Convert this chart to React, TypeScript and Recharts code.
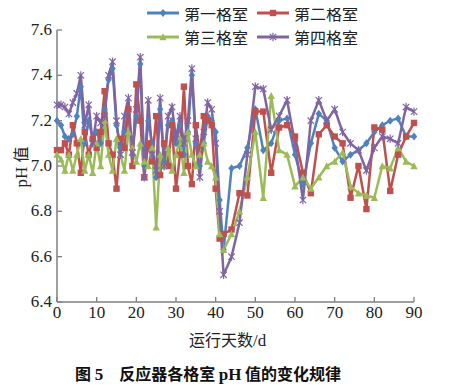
import React from "react";
import { LineChart, Line, XAxis, YAxis } from "recharts";

// 运行天数 (d)
const days = [
  0, 1, 2, 3, 4, 5, 6, 7, 8, 9, 10, 11, 12, 13, 14, 15, 16, 17, 18, 19, 20,
  21, 22, 23, 24, 25, 26, 27, 28, 29, 30, 31, 32, 33, 34, 35, 36, 37, 38, 39,
  40, 41, 42, 44, 46, 48, 50, 52, 54, 56, 58, 60, 62, 64, 66, 68, 70, 72, 74,
  76, 78, 80, 82, 84, 86, 88, 90,
];

const cell1 = [
  7.2, 7.18, 7.13, 7.12, 7.14, 7.22, 7.35, 7.1, 7.2, 7.12, 7.15, 7.1, 7.25,
  7.38, 7.43, 7.18, 7.08, 7.15, 7.25, 7.05, 7.22, 7.45, 7.0, 7.2, 7.1, 6.95,
  7.25, 7.02, 7.18, 7.2, 7.1, 7.18, 7.05, 7.15, 7.4, 7.1, 7.0, 7.1, 7.22, 7.2,
  7.15, 6.85, 6.63, 6.99, 7.0, 7.08, 7.25, 7.07, 7.1, 7.2, 7.21, 7.05, 6.92,
  7.1, 7.23, 7.2, 7.08, 7.02, 7.05, 7.07, 7.1, 7.15, 7.18, 7.2, 7.21, 7.13,
  7.13,
];

const cell2 = [
  7.07, 7.07, 7.1, 7.05, 7.18, 7.1, 6.97, 7.15, 7.05, 7.12, 7.08, 7.15, 7.33,
  7.1, 7.05, 6.9, 7.12, 7.08, 7.25, 7.0, 7.36, 7.2, 6.95, 7.1, 7.02, 7.22,
  6.96, 7.1, 7.0, 7.18, 6.9, 7.05, 7.35, 7.0, 6.92, 7.18, 7.05, 7.22, 7.2,
  7.18, 6.9, 6.68, 6.7, 6.72, 6.88, 6.87, 7.24, 7.24, 6.97, 7.17, 7.18, 7.13,
  6.97, 6.88, 7.14, 7.18, 7.13, 7.1, 6.86, 7.0, 6.81, 7.17, 7.16, 6.89, 7.05,
  7.13, 7.19,
];

const cell3 = [
  7.05, 7.03, 6.98, 7.05, 6.98, 7.05, 7.12, 6.98, 7.05, 6.97, 7.1, 7.0, 7.2,
  7.05, 6.98, 7.12, 7.05, 6.98, 7.15, 7.08, 7.02, 7.1, 7.02, 7.0, 7.08, 6.73,
  7.05, 7.0, 7.08, 6.98, 7.05, 7.12, 6.97, 7.15, 7.05, 7.0, 7.05, 7.1, 7.02,
  7.0, 6.95, 6.7, 6.63, 6.7, 6.8, 6.95, 7.15, 6.86, 7.31, 7.07, 7.05, 6.91,
  6.95, 6.9, 6.95, 7.0, 7.02, 7.06, 6.91, 6.88, 6.87, 6.86, 7.0, 6.99, 7.08,
  7.02, 7.0,
];

const cell4 = [
  7.27, 7.27, 7.26, 7.23, 7.28, 7.32, 7.4, 7.18, 7.27, 7.1, 7.22, 7.19, 7.22,
  7.4, 7.46, 7.2, 7.05, 7.22, 7.3, 7.06, 7.25, 7.48, 6.95, 7.29, 7.05, 6.98,
  7.3, 7.0, 7.22, 7.26, 7.12, 7.22, 7.1, 7.2, 7.43, 7.12, 6.95, 7.15, 7.28,
  7.25, 7.1, 6.8, 6.52, 6.6, 6.75, 7.05, 7.35, 7.34, 7.16, 7.22, 7.29, 7.1,
  6.85, 7.2, 7.29, 7.2, 7.25, 7.15, 7.1, 7.07, 6.98, 7.08, 7.13, 7.12, 7.1,
  7.26, 7.24,
];

const seriesNames = ["第一格室", "第二格室", "第三格室", "第四格室"];
const xTicks = [0, 10, 20, 30, 40, 50, 60, 70, 80, 90];
const yTicks = [6.4, 6.6, 6.8, 7.0, 7.2, 7.4, 7.6];

const data = days.map((d, i) => ({
  day: d,
  c1: cell1[i],
  c2: cell2[i],
  c3: cell3[i],
  c4: cell4[i],
}));

const COLORS = ["#4f81bd", "#c0504d", "#9bbb59", "#8064a2"];
const AXIS = "#7f7f7f";
const SERIF = "Liberation Serif, Times New Roman, DejaVu Serif, serif";
const CJK = "Noto Sans CJK SC, sans-serif";

const Marker = ({ kind, cx, cy, color }: any) => {
  if (cx == null || cy == null) return null;
  const s = 3.2;
  if (kind === 0)
    return (
      <polygon
        points={`${cx},${cy - s - 0.8} ${cx + s},${cy} ${cx},${cy + s + 0.8} ${cx - s},${cy}`}
        fill={color}
      />
    );
  if (kind === 1)
    return <rect x={cx - s} y={cy - s} width={s * 2} height={s * 2} fill={color} />;
  if (kind === 2)
    return (
      <polygon
        points={`${cx},${cy - s - 0.5} ${cx + s + 0.5},${cy + s} ${cx - s - 0.5},${cy + s}`}
        fill={color}
      />
    );
  return (
    <g stroke={color} strokeWidth={1.2}>
      <line x1={cx - s} y1={cy - s} x2={cx + s} y2={cy + s} />
      <line x1={cx - s} y1={cy + s} x2={cx + s} y2={cy - s} />
      <line x1={cx} y1={cy - s - 1} x2={cx} y2={cy + s + 1} />
    </g>
  );
};

const makeDot = (kind: number) => (props: any) => (
  <Marker
    key={`m${kind}-${props.index}`}
    kind={kind}
    cx={props.cx}
    cy={props.cy}
    color={COLORS[kind]}
  />
);

const XTick = ({ x, y, payload }: any) => (
  <g>
    <line x1={x} y1={y - 4} x2={x} y2={y - 9} stroke={AXIS} strokeWidth={1.3} />
    <text
      x={x}
      y={y + 12}
      textAnchor="middle"
      style={{ fontFamily: SERIF }}
      fontSize={17}
      fill="#222"
    >
      {payload.value}
    </text>
  </g>
);

const YTick = ({ x, y, payload }: any) => (
  <g>
    <line x1={x + 4} y1={y} x2={x + 9} y2={y} stroke={AXIS} strokeWidth={1.3} />
    <text
      x={x - 1}
      y={y + 5}
      textAnchor="end"
      style={{ fontFamily: SERIF }}
      fontSize={17}
      fill="#222"
    >
      {Number(payload.value).toFixed(1)}
    </text>
  </g>
);

const LegendItem = ({ i }: { i: number }) => (
  <div style={{ display: "flex", alignItems: "center", height: 22 }}>
    <svg width={34} height={14} style={{ marginRight: 4 }}>
      <line x1={1} y1={7} x2={33} y2={7} stroke={COLORS[i]} strokeWidth={3} />
      <Marker kind={i} cx={17} cy={7} color={COLORS[i]} />
    </svg>
    <span style={{ fontFamily: CJK, fontSize: 16, color: "#222" }}>
      {seriesNames[i]}
    </span>
  </div>
);

const App: React.FC = () => {
  return (
    <div style={{ position: "relative", width: 453, height: 378, background: "#fff" }}>
      <LineChart
        width={453}
        height={378}
        data={data}
        margin={{ top: 22, right: 47, bottom: 54, left: 9 }}
      >
        <XAxis
          dataKey="day"
          type="number"
          domain={[0, 90]}
          ticks={xTicks}
          interval={0}
          height={30}
          stroke={AXIS}
          strokeWidth={1.5}
          tickLine={false}
          tickMargin={0}
          tickSize={4}
          tick={<XTick />}
        />
        <YAxis
          type="number"
          domain={[6.4, 7.6]}
          ticks={yTicks}
          interval={0}
          width={40}
          stroke={AXIS}
          strokeWidth={1.5}
          tickLine={false}
          tickMargin={0}
          tickSize={4}
          tick={<YTick />}
        />
        {["c1", "c2", "c3", "c4"].map((k, i) => (
          <Line
            key={k}
            dataKey={k}
            name={seriesNames[i]}
            stroke={COLORS[i]}
            strokeWidth={2.5}
            dot={makeDot(i)}
            activeDot={false}
            isAnimationActive={false}
          />
        ))}
      </LineChart>

      <div
        style={{
          position: "absolute",
          left: 138,
          top: -6,
          display: "grid",
          gridTemplateColumns: "auto auto",
          columnGap: 8,
          rowGap: 2,
        }}
      >
        <LegendItem i={0} />
        <LegendItem i={1} />
        <LegendItem i={2} />
        <LegendItem i={3} />
      </div>

      <div
        style={{
          position: "absolute",
          left: 12 - 30,
          top: 157 - 10,
          width: 60,
          textAlign: "center",
          transform: "rotate(-90deg)",
          fontFamily: SERIF,
          fontSize: 17,
          color: "#222",
          whiteSpace: "nowrap",
        }}
      >
        pH <span style={{ fontFamily: CJK, fontSize: 16 }}>值</span>
      </div>

      <div
        style={{
          position: "absolute",
          left: 181,
          top: 319,
          fontFamily: CJK,
          fontSize: 16,
          color: "#222",
          whiteSpace: "nowrap",
        }}
      >
        运行天数<span style={{ fontFamily: SERIF, fontSize: 17 }}>/d</span>
      </div>

      <div
        style={{
          position: "absolute",
          left: 67,
          top: 353,
          fontFamily: CJK,
          fontSize: 16,
          fontWeight: "bold",
          color: "#111",
          whiteSpace: "nowrap",
        }}
      >
        图 <span style={{ fontFamily: SERIF, fontSize: 17 }}>5</span>　反应器各格室{" "}
        <span style={{ fontFamily: SERIF, fontSize: 17 }}>pH</span> 值的变化规律
      </div>
    </div>
  );
};

export default App;
